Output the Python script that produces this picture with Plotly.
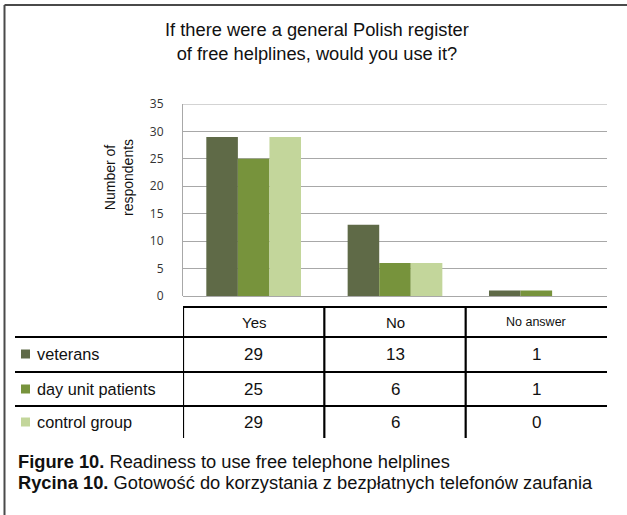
import plotly.graph_objects as go

# Survey answers per group
categories = ["Yes", "No", "No answer"]
groups = ["veterans", "day unit patients", "control group"]
veterans = [29, 13, 1]
day_unit_patients = [25, 6, 1]
control_group = [29, 6, 0]
series = [veterans, day_unit_patients, control_group]
colors = ["#5f6a47", "#77933c", "#c3d69b"]

y_ticks = [0, 5, 10, 15, 20, 25, 30, 35]

W, H = 627, 515
L, R, T, B = 183, 20, 104, 219
PW, PH = W - L - R, H - T - B
FONT = "Liberation Sans, Arial"
INK = "#111111"


def px(x):
    return (x - L) / PW


def py(y):
    return (H - B - y) / PH


fig = go.Figure()
x_idx = list(range(len(categories)))
for name, vals, col in zip(groups, series, colors):
    fig.add_trace(go.Bar(x=x_idx, y=vals, name=name, marker=dict(color=col, line=dict(width=0))))

shapes = []
annotations = []
black = dict(color="black", width=2.2)

# table grid
row_lines = [307, 337, 372, 406]
bottom = 438
shapes.append(dict(type="line", xref="paper", yref="paper", x0=px(183), x1=px(607),
                   y0=py(row_lines[0]), y1=py(row_lines[0]), line=black))
for yl in row_lines[1:]:
    shapes.append(dict(type="line", xref="paper", yref="paper", x0=px(15), x1=px(607),
                       y0=py(yl), y1=py(yl), line=black))
for xb in [-0.5, 0.5, 1.5]:
    shapes.append(dict(type="line", xref="x", yref="paper", x0=xb, x1=xb,
                       y0=py(row_lines[0]), y1=py(bottom), line=black))

# header cells
for i, c in enumerate(categories):
    annotations.append(dict(x=i, y=py(322), xref="x", yref="paper", text=c, showarrow=False,
                            font=dict(family=FONT, size=12.5 if len(c) > 3 else 15, color=INK),
                            xanchor="center", yanchor="middle"))

# body rows
row_centers = [354, 389, 422]
for r, (name, vals, col) in enumerate(zip(groups, series, colors)):
    yc = row_centers[r]
    shapes.append(dict(type="rect", xref="paper", yref="paper", x0=px(21), x1=px(30),
                       y0=py(yc - 4.5), y1=py(yc + 4.5), fillcolor=col, line=dict(width=0)))
    annotations.append(dict(x=px(35), y=py(yc), xref="paper", yref="paper", text=name,
                            showarrow=False, xanchor="left", yanchor="middle",
                            font=dict(family=FONT, size=16.3, color=INK)))
    for i, v in enumerate(vals):
        annotations.append(dict(x=i, y=py(yc), xref="x", yref="paper", text=str(v),
                                showarrow=False, xanchor="center", yanchor="middle",
                                font=dict(family=FONT, size=17, color=INK)))

# y axis title
annotations.append(dict(x=px(119), y=py(178), xref="paper", yref="paper",
                        text="Number of<br>respondents", textangle=-90, showarrow=False,
                        xanchor="center", yanchor="middle",
                        font=dict(family=FONT, size=14, color=INK)))

# chart title
annotations.append(dict(x=px(317), y=py(41), xref="paper", yref="paper",
                        text="If there were a general Polish register<br>of free helplines, would you use it?",
                        showarrow=False, xanchor="center", yanchor="middle",
                        font=dict(family=FONT, size=18.3, color=INK)))

# captions
annotations.append(dict(x=px(16), y=py(461), xref="paper", yref="paper",
                        text="<b>Figure 10.</b> Readiness to use free telephone helplines",
                        showarrow=False, xanchor="left", yanchor="middle",
                        font=dict(family=FONT, size=18.3, color=INK)))
annotations.append(dict(x=px(16), y=py(482), xref="paper", yref="paper",
                        text="<b>Rycina 10.</b> Gotowość do korzystania z bezpłatnych telefonów zaufania",
                        showarrow=False, xanchor="left", yanchor="middle",
                        font=dict(family=FONT, size=18.3, color=INK)))

# outer frame (left and top edges)
frame = dict(color="#4a4a4a", width=2)
shapes.append(dict(type="line", xref="paper", yref="paper", x0=px(4.5), x1=px(627),
                   y0=py(5), y1=py(5), line=frame))
shapes.append(dict(type="line", xref="paper", yref="paper", x0=px(4.5), x1=px(4.5),
                   y0=py(5), y1=py(515), line=frame))

fig.update_layout(
    width=W, height=H,
    margin=dict(l=L, r=R, t=T, b=B),
    paper_bgcolor="white", plot_bgcolor="white",
    barmode="group", bargap=0.33, bargroupgap=0,
    showlegend=False,
    shapes=shapes, annotations=annotations,
    xaxis=dict(range=[-0.5, 2.5], showticklabels=False, showgrid=False, zeroline=False,
               showline=False, fixedrange=True),
    yaxis=dict(range=[0, 35], tickvals=y_ticks, showgrid=True, gridcolor="#a8a8a8", gridwidth=1,
               zeroline=True, zerolinecolor="#a8a8a8", zerolinewidth=1,
               showline=True, linecolor="#a8a8a8", linewidth=1, ticks="",
               tickfont=dict(family="Open Sans, DejaVu Sans", size=12, color="#333333"),
               ticklabelstandoff=16),
)
# top grid line at 35
fig.add_shape(type="line", xref="paper", yref="y", x0=0, x1=1, y0=35, y1=35,
              line=dict(color="#a8a8a8", width=1))

fig.write_html("out.html")
